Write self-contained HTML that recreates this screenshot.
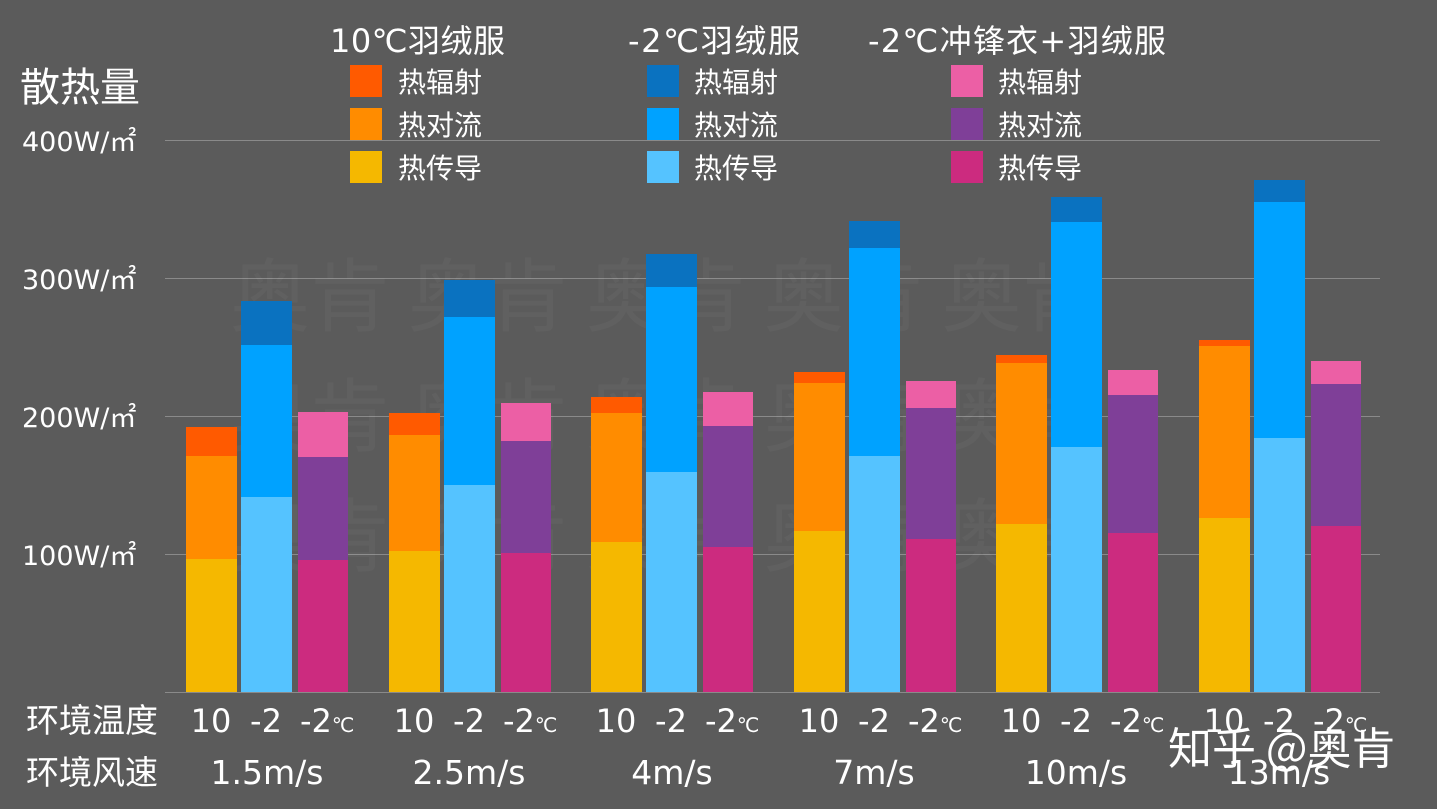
<!DOCTYPE html>
<html><head><meta charset="utf-8"><style>
html,body{margin:0;padding:0;background:#5b5b5b;}
svg{display:block;font-family:"DejaVu Sans","Noto Sans CJK SC",sans-serif;}
.cjk{font-family:"Noto Sans CJK SC",sans-serif;}
</style></head><body>
<svg width="1437" height="809" viewBox="0 0 1437 809">
<rect width="1437" height="809" fill="#5b5b5b"/>
<g stroke="#8a8a8a" stroke-width="1">
<line x1="165" y1="140.5" x2="1380" y2="140.5"/>
<line x1="165" y1="278.5" x2="1380" y2="278.5"/>
<line x1="165" y1="416.5" x2="1380" y2="416.5"/>
<line x1="165" y1="554.5" x2="1380" y2="554.5"/>
<line x1="165" y1="692.5" x2="1380" y2="692.5"/>
</g>
<g fill="#fff" font-size="27">
<text x="22" y="151">400W/㎡</text>
<text x="22" y="289">300W/㎡</text>
<text x="22" y="427">200W/㎡</text>
<text x="22" y="565">100W/㎡</text>
</g>
<text x="20" y="101" fill="#fff" font-size="40" class="cjk">散热量</text>
<g fill="#fff" font-size="32">
<text x="330" y="52" textLength="175">10℃羽绒服</text>
<text x="628" y="52" textLength="172">-2℃羽绒服</text>
<text x="868" y="52" textLength="298">-2℃冲锋衣+羽绒服</text>
</g>
<g>
<rect x="350" y="65" width="32" height="32" fill="#ff5a00"/>
<rect x="350" y="108" width="32" height="32" fill="#ff8c00"/>
<rect x="350" y="151" width="32" height="32" fill="#f5b800"/>
<rect x="647" y="65" width="32" height="32" fill="#0a72c0"/>
<rect x="647" y="108" width="32" height="32" fill="#00a2ff"/>
<rect x="647" y="151" width="32" height="32" fill="#55c3ff"/>
<rect x="951" y="65" width="32" height="32" fill="#ec5fa5"/>
<rect x="951" y="108" width="32" height="32" fill="#7f3f98"/>
<rect x="951" y="151" width="32" height="32" fill="#cc2b7f"/>
</g>
<g fill="#fff" font-size="28" class="cjk">
<text x="398" y="92">热辐射</text><text x="398" y="135">热对流</text><text x="398" y="178">热传导</text>
<text x="694" y="92">热辐射</text><text x="694" y="135">热对流</text><text x="694" y="178">热传导</text>
<text x="998" y="92">热辐射</text><text x="998" y="135">热对流</text><text x="998" y="178">热传导</text>
</g>
<g opacity="0.03" fill="#fff" font-size="80" class="cjk">
<text x="230" y="325">奥肯 奥肯 奥肯 奥肯 奥肯</text>
<text x="230" y="445">奥肯 奥肯 奥肯 奥肯 奥肯</text>
<text x="230" y="565">奥肯 奥肯 奥肯 奥肯 奥肯</text>
</g>
<rect x="186" y="559" width="51" height="133" fill="#f5b800"/><rect x="186" y="456" width="51" height="103" fill="#ff8c00"/><rect x="186" y="427" width="51" height="29" fill="#ff5a00"/>
<rect x="241" y="497" width="51" height="195" fill="#55c3ff"/><rect x="241" y="345" width="51" height="152" fill="#00a2ff"/><rect x="241" y="301" width="51" height="44" fill="#0a72c0"/>
<rect x="298" y="560" width="50" height="132" fill="#cc2b7f"/><rect x="298" y="457" width="50" height="103" fill="#7f3f98"/><rect x="298" y="412" width="50" height="45" fill="#ec5fa5"/>
<rect x="389" y="551" width="51" height="141" fill="#f5b800"/><rect x="389" y="435" width="51" height="116" fill="#ff8c00"/><rect x="389" y="413" width="51" height="22" fill="#ff5a00"/>
<rect x="444" y="485" width="51" height="207" fill="#55c3ff"/><rect x="444" y="317" width="51" height="168" fill="#00a2ff"/><rect x="444" y="280" width="51" height="37" fill="#0a72c0"/>
<rect x="501" y="553" width="50" height="139" fill="#cc2b7f"/><rect x="501" y="441" width="50" height="112" fill="#7f3f98"/><rect x="501" y="403" width="50" height="38" fill="#ec5fa5"/>
<rect x="591" y="542" width="51" height="150" fill="#f5b800"/><rect x="591" y="413" width="51" height="129" fill="#ff8c00"/><rect x="591" y="397" width="51" height="16" fill="#ff5a00"/>
<rect x="646" y="472" width="51" height="220" fill="#55c3ff"/><rect x="646" y="287" width="51" height="185" fill="#00a2ff"/><rect x="646" y="254" width="51" height="33" fill="#0a72c0"/>
<rect x="703" y="547" width="50" height="145" fill="#cc2b7f"/><rect x="703" y="426" width="50" height="121" fill="#7f3f98"/><rect x="703" y="392" width="50" height="34" fill="#ec5fa5"/>
<rect x="794" y="531" width="51" height="161" fill="#f5b800"/><rect x="794" y="383" width="51" height="148" fill="#ff8c00"/><rect x="794" y="372" width="51" height="11" fill="#ff5a00"/>
<rect x="849" y="456" width="51" height="236" fill="#55c3ff"/><rect x="849" y="248" width="51" height="208" fill="#00a2ff"/><rect x="849" y="221" width="51" height="27" fill="#0a72c0"/>
<rect x="906" y="539" width="50" height="153" fill="#cc2b7f"/><rect x="906" y="408" width="50" height="131" fill="#7f3f98"/><rect x="906" y="381" width="50" height="27" fill="#ec5fa5"/>
<rect x="996" y="524" width="51" height="168" fill="#f5b800"/><rect x="996" y="363" width="51" height="161" fill="#ff8c00"/><rect x="996" y="355" width="51" height="8" fill="#ff5a00"/>
<rect x="1051" y="447" width="51" height="245" fill="#55c3ff"/><rect x="1051" y="222" width="51" height="225" fill="#00a2ff"/><rect x="1051" y="197" width="51" height="25" fill="#0a72c0"/>
<rect x="1108" y="533" width="50" height="159" fill="#cc2b7f"/><rect x="1108" y="395" width="50" height="138" fill="#7f3f98"/><rect x="1108" y="370" width="50" height="25" fill="#ec5fa5"/>
<rect x="1199" y="518" width="51" height="174" fill="#f5b800"/><rect x="1199" y="346" width="51" height="172" fill="#ff8c00"/><rect x="1199" y="340" width="51" height="6" fill="#ff5a00"/>
<rect x="1254" y="438" width="51" height="254" fill="#55c3ff"/><rect x="1254" y="202" width="51" height="236" fill="#00a2ff"/><rect x="1254" y="180" width="51" height="22" fill="#0a72c0"/>
<rect x="1311" y="526" width="50" height="166" fill="#cc2b7f"/><rect x="1311" y="384" width="50" height="142" fill="#7f3f98"/><rect x="1311" y="361" width="50" height="23" fill="#ec5fa5"/>
<g fill="#fff" font-size="32">
<text x="26" y="732" class="cjk" font-size="33">环境温度</text>
<text x="26" y="784" class="cjk" font-size="33">环境风速</text>
<text x="211" y="732" text-anchor="middle">10</text><text x="266" y="732" text-anchor="middle">-2</text><text x="300" y="732">-2<tspan font-size="20">℃</tspan></text>
<text x="414" y="732" text-anchor="middle">10</text><text x="469" y="732" text-anchor="middle">-2</text><text x="503" y="732">-2<tspan font-size="20">℃</tspan></text>
<text x="616" y="732" text-anchor="middle">10</text><text x="671" y="732" text-anchor="middle">-2</text><text x="705" y="732">-2<tspan font-size="20">℃</tspan></text>
<text x="819" y="732" text-anchor="middle">10</text><text x="874" y="732" text-anchor="middle">-2</text><text x="908" y="732">-2<tspan font-size="20">℃</tspan></text>
<text x="1021" y="732" text-anchor="middle">10</text><text x="1076" y="732" text-anchor="middle">-2</text><text x="1110" y="732">-2<tspan font-size="20">℃</tspan></text>
<text x="1224" y="732" text-anchor="middle">10</text><text x="1279" y="732" text-anchor="middle">-2</text><text x="1313" y="732">-2<tspan font-size="20">℃</tspan></text>
</g>
<g fill="#fff" font-size="33" text-anchor="middle">
<text x="267" y="784">1.5m/s</text>
<text x="469" y="784">2.5m/s</text>
<text x="672" y="784">4m/s</text>
<text x="874" y="784">7m/s</text>
<text x="1076" y="784">10m/s</text>
<text x="1279" y="784">13m/s</text>
</g>
<text x="1168" y="764" fill="#fff" font-size="44" class="cjk">知乎 @奥肯</text>
</svg>
</body></html>
